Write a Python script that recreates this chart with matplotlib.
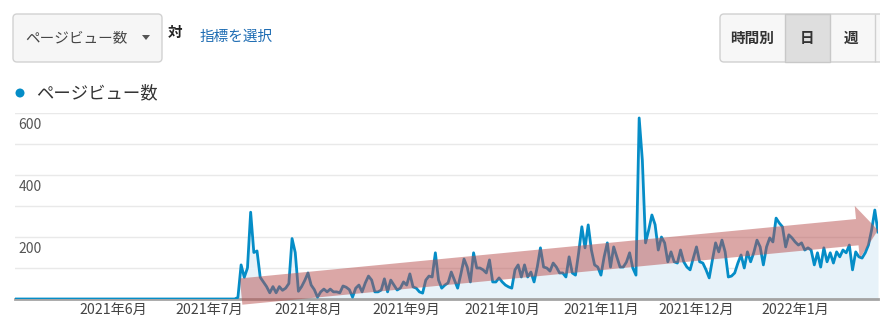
import matplotlib
matplotlib.use("Agg")
import matplotlib.pyplot as plt
import matplotlib.dates as mdates
import matplotlib.transforms as mtransforms
from matplotlib.patches import FancyBboxPatch, Rectangle, FancyArrowPatch, Circle, Polygon, ArrowStyle
import pandas as pd

plt.rcParams['font.family'] = ['Noto Sans CJK JP', 'DejaVu Sans']

W, H = 880, 328

# Daily page views, 2021-05-01 .. 2022-01-27
start_date = "2021-05-01"
pv_before = [0] * 70  # May 1 - Jul 9: flat at zero
pv_jul = [5, 110, 70, 100, 280, 150, 155, 70, 55, 40, 20, 40, 20, 40, 28, 35,
          50, 195, 150, 25, 40, 60]
pv_aug = [84, 45, 30, 6, 23, 32, 23, 32, 23, 23, 20, 42, 38, 30, 6, 35, 45, 23,
          52, 74, 61, 23, 23, 29, 65, 23, 61, 45, 29, 35, 55]
pv_sep = [45, 81, 39, 35, 23, 19, 61, 74, 71, 149, 61, 35, 45, 52, 87, 61, 35,
          80, 129, 103, 55, 149, 100, 100, 94, 84, 126, 55, 55, 68]
pv_oct = [55, 45, 39, 35, 94, 110, 71, 110, 71, 87, 55, 103, 165, 103, 100, 90,
          116, 103, 84, 84, 71, 136, 84, 77, 149, 233, 165, 239, 158, 110, 103]
pv_nov = [77, 136, 181, 103, 168, 136, 103, 103, 119, 149, 100, 77, 584, 448,
          181, 223, 271, 240, 158, 200, 181, 120, 152, 120, 116, 158, 120, 103,
          94, 132]
pv_dec = [168, 120, 116, 94, 68, 126, 181, 152, 190, 152, 71, 74, 84, 116, 142,
          100, 152, 120, 150, 190, 168, 110, 168, 197, 184, 261, 245, 233, 168,
          207, 197]
pv_jan = [184, 174, 181, 158, 165, 158, 110, 149, 103, 165, 120, 149, 116, 152,
          136, 158, 149, 174, 94, 152, 136, 132, 149, 174, 223, 287, 216]

pageviews = pv_before + pv_jul + pv_aug + pv_sep + pv_oct + pv_nov + pv_dec + pv_jan
dates = pd.date_range(start_date, periods=len(pageviews), freq="D")

month_ticks = ["2021-06-01", "2021-07-01", "2021-08-01", "2021-09-01",
               "2021-10-01", "2021-11-01", "2021-12-01", "2022-01-01"]
month_labels = ["2021年6月", "2021年7月", "2021年8月", "2021年9月",
                "2021年10月", "2021年11月", "2021年12月", "2022年1月"]
y_labels = [200, 400, 600]

# trend arrow drawn over the chart (start / end in data units)
trend_start = ("2021-07-11", 24)
trend_end = ("2022-01-27", 222)

line_color = "#058dc7"

fig = plt.figure(figsize=(W / 100, H / 100), dpi=100)
fig.patch.set_facecolor("white")
pix = mtransforms.Affine2D().scale(1 / 100) + fig.dpi_scale_trans

ax = fig.add_axes([15 / W, 29 / H, 863 / W, 186 / H])
ax.fill_between(dates, pageviews, 0, color="#e7f2f9", lw=0, zorder=1)
ax.plot(dates, pageviews, color=line_color, lw=2, solid_joinstyle="round", zorder=3)

ax.set_xlim(dates[0], dates[-1])
ax.set_ylim(0, 600)
ax.set_yticks(range(0, 601, 100))
ax.yaxis.grid(True, color="#e9e9e9", lw=1)
ax.set_axisbelow(True)
ax.tick_params(axis="y", length=0, labelleft=False)
for s in ["top", "left", "right"]:
    ax.spines[s].set_visible(False)
ax.spines["bottom"].set_color("#a3a3a3")
ax.spines["bottom"].set_linewidth(2)
ax.spines["bottom"].set_zorder(2)

ax.set_xticks(pd.to_datetime(month_ticks))
ax.set_xticklabels(month_labels, fontsize=10.2, color="#444444")
ax.tick_params(axis="x", length=0, pad=3)

label_tr = mtransforms.offset_copy(ax.get_yaxis_transform(), fig=fig, x=0, y=-5, units="dots")
for v in y_labels:
    ax.text(0.004, v, str(v), transform=label_tr, ha="left", va="top",
            fontsize=10, color="#555555")

# trend arrow
pa = (mdates.date2num(pd.Timestamp(trend_start[0])), trend_start[1])
pb = (mdates.date2num(pd.Timestamp(trend_end[0])), trend_end[1])
arrow = FancyArrowPatch(pa, pb, arrowstyle=ArrowStyle.Simple(head_length=15, head_width=38, tail_width=19),
                        mutation_scale=1, shrinkA=0, shrinkB=0, color="#b8504f", alpha=0.5,
                        lw=0, zorder=5, clip_on=False)
ax.add_patch(arrow)

# --- UI controls above the chart ---
def py(y):
    return H - y

fig.add_artist(FancyBboxPatch((13, py(62)), 149, 48, boxstyle="round,pad=0,rounding_size=4",
                              fc="#f6f6f6", ec="#d2d2d2", lw=1, transform=pix))
fig.text(25, py(38), "ページビュー数", transform=pix, fontsize=10.5, color="#444444", va="center")
fig.add_artist(Polygon([(142, py(35)), (150, py(35)), (146, py(40))], closed=True,
                       fc="#555555", ec="none", transform=pix))
fig.text(168, py(32), "対", transform=pix, fontsize=10.5, color="#222222",
         va="center", fontweight="bold")
fig.text(200, py(37), "指標を選択", transform=pix, fontsize=10.5, color="#1f6db3", va="center")

fig.add_artist(Circle((20, py(93)), 4.5, fc=line_color, ec="none", transform=pix))
fig.text(36, py(93), "ページビュー数", transform=pix, fontsize=12.5, color="#333333", va="center")

fig.add_artist(FancyBboxPatch((720, py(62)), 175, 48, boxstyle="round,pad=0,rounding_size=4",
                              fc="#f7f7f7", ec="#d0d0d0", lw=1, transform=pix))
fig.add_artist(Rectangle((785, py(62)), 45, 48, fc="#dedede", ec="#c8c8c8", lw=1, transform=pix))
fig.add_artist(Rectangle((875, py(62)), 0.1, 48, fc="none", ec="#d0d0d0", lw=1, transform=pix))
for txt, cx in [("時間別", 752), ("日", 807), ("週", 851)]:
    fig.text(cx, py(38), txt, transform=pix, fontsize=10.5, color="#333333",
             ha="center", va="center", fontweight="bold")

fig.savefig("out.png", dpi=100)
